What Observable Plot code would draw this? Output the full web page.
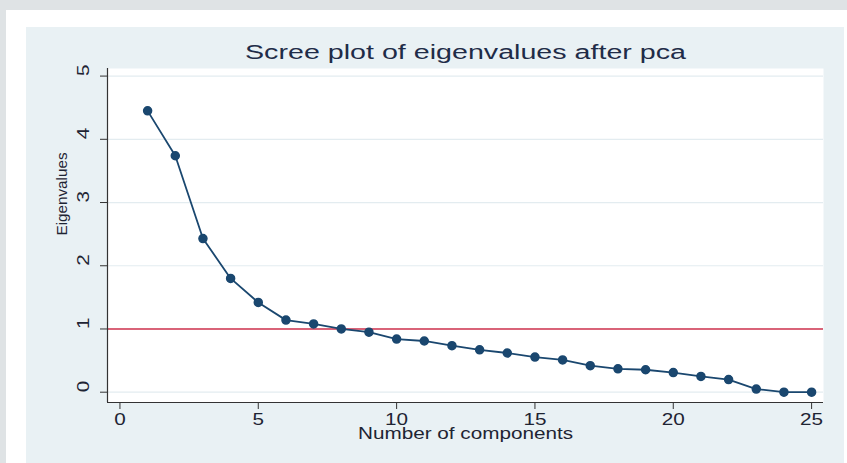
<!DOCTYPE html>
<html>
<head>
<meta charset="utf-8">
<script src="https://cdn.jsdelivr.net/npm/d3@7"></script>
<script src="https://cdn.jsdelivr.net/npm/@observablehq/plot@0.6"></script>
<style>
  html, body { margin: 0; padding: 0; }
  body { width: 847px; height: 463px; background: #dfe3e5; position: relative; overflow: hidden; font-family: "Liberation Sans", Arial, sans-serif; }
  #white { position: absolute; left: 6px; top: 10px; width: 841px; height: 453px; background: #ffffff; }
  #panel { position: absolute; left: 26px; top: 27px; width: 818px; height: 436px; background: #e9f1f4; }
  #chart { position: absolute; left: 0; top: 0; }
  #chart svg { background: transparent !important; }
</style>
</head>
<body>
<div id="white"></div>
<div id="panel"></div>
<div id="chart"></div>
<script>
const components = [1,2,3,4,5,6,7,8,9,10,11,12,13,14,15,16,17,18,19,20,21,22,23,24,25];
const eigenvalues = [4.45,3.74,2.43,1.80,1.42,1.14,1.08,1.00,0.95,0.84,0.81,0.735,0.67,0.62,0.555,0.51,0.42,0.37,0.355,0.31,0.25,0.20,0.05,0.0,0.0];
const xTicks = [0,5,10,15,20,25];
const yTicks = [0,1,2,3,4,5];
const refValue = [1];
const titleText = "Scree plot of eigenvalues after pca";
const xTitle = "Number of components";
const yTitle = "Eigenvalues";

const data = components.map((c, i) => ({c, v: eigenvalues[i]}));
const xDomain = [-0.45, 25.43];
const yDomain = [-0.163, 5.12];
const navy = "#1a476f";
const textColor = "#1e2433";

const plot = Plot.plot({
  width: 847,
  height: 463,
  marginLeft: 107,
  marginRight: 24,
  marginTop: 68,
  marginBottom: 61,
  style: {background: "transparent", fontFamily: "Liberation Sans, Arial, sans-serif"},
  x: {domain: xDomain, axis: null},
  y: {domain: yDomain, axis: null},
  marks: [
    Plot.frame({fill: "#ffffff", stroke: null}),
    Plot.gridY(yTicks, {stroke: "#e3ecf0", strokeOpacity: 1, strokeWidth: 1.2}),
    Plot.ruleY(refValue, {stroke: "#d2334f", strokeWidth: 1.6}),
    Plot.line(data, {x: "c", y: "v", stroke: navy, strokeWidth: 1.8}),
    Plot.dot(data, {x: "c", y: "v", fill: navy, stroke: navy, r: 4, symbol: "circle"}),
    Plot.ruleX([xDomain[0]], {stroke: "#333333", strokeWidth: 1.2}),
    Plot.ruleY([yDomain[0]], {stroke: "#333333", strokeWidth: 1.2}),
    Plot.axisX(xTicks, {tickSize: 7, tickFormat: () => "", label: null, stroke: "#333333"}),
    Plot.axisY(yTicks, {tickSize: 7, tickFormat: () => "", label: null, stroke: "#333333"}),
    Plot.text(xTicks, {x: d => d, frameAnchor: "bottom", dy: 17, lineAnchor: "middle", text: d => String(d), fontSize: 16, fill: textColor}),
    Plot.text(yTicks, {y: d => d, frameAnchor: "left", dx: -24, rotate: -90, lineAnchor: "middle", text: d => String(d), fontSize: 16, fill: textColor}),
    Plot.text([titleText], {frameAnchor: "top", dy: -16, lineAnchor: "middle", text: d => d, fontSize: 20, fill: "#1f2c48"}),
    Plot.text([xTitle], {frameAnchor: "bottom", dy: 31, lineAnchor: "middle", text: d => d, fontSize: 16, fill: textColor}),
    Plot.text([yTitle], {frameAnchor: "left", dx: -45, rotate: -90, lineAnchor: "middle", text: d => d, fontSize: 14, fill: textColor})
  ]
});
document.getElementById("chart").appendChild(plot);

// stretch text widths to match reference proportions
const fits = {};
fits[titleText] = 441;
fits[xTitle] = 215;
fits[yTitle] = 83;
d3.select(plot).selectAll("text").each(function() {
  const t = this.textContent;
  if (fits[t]) {
    this.setAttribute("textLength", fits[t]);
    this.setAttribute("lengthAdjust", "spacingAndGlyphs");
  } else if (/^\d+$/.test(t)) {
    this.setAttribute("textLength", t.length * 11.5);
    this.setAttribute("lengthAdjust", "spacingAndGlyphs");
  }
});
</script>
</body>
</html>
